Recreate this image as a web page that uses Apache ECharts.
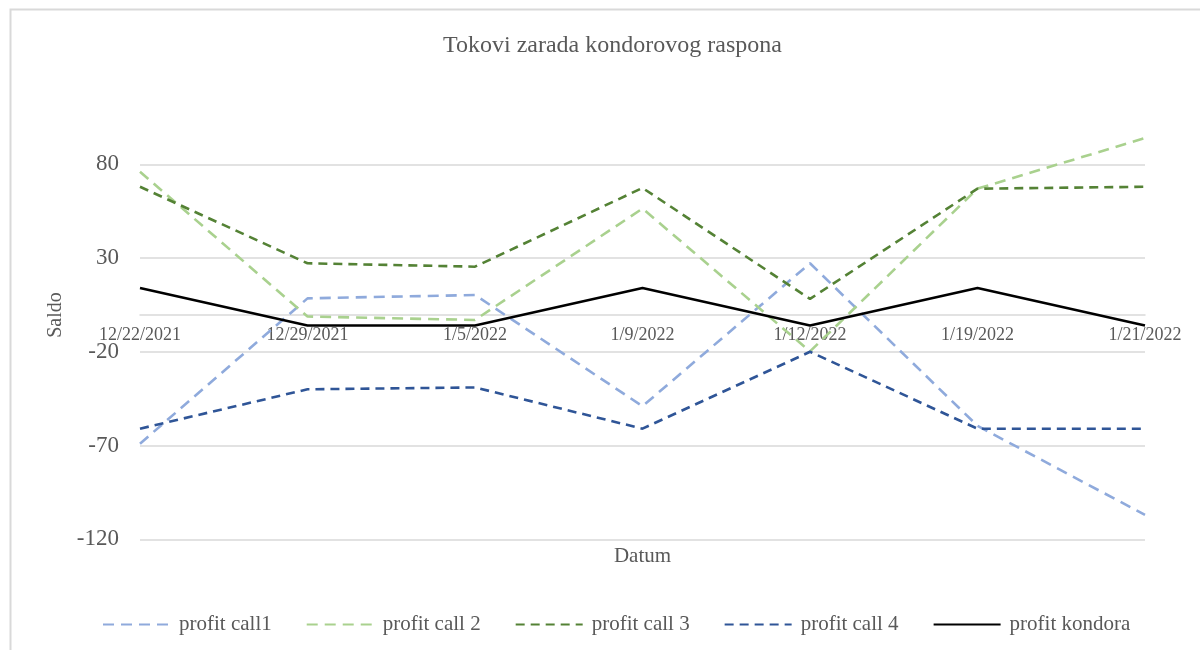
<!DOCTYPE html>
<html>
<head>
<meta charset="utf-8">
<title>Tokovi zarada kondorovog raspona</title>
<script src="https://cdn.jsdelivr.net/npm/echarts@6/dist/echarts.min.js"></script>
<style>
    html, body { margin: 0; padding: 0; background: #fff; }
    #main { width: 1200px; height: 650px; }
</style>
</head>
<body>
<div id="main"></div>
<script>
// podaci ----------------------------
var dates = ['12/22/2021', '12/29/2021', '1/5/2022', '1/9/2022', '1/12/2022', '1/19/2022', '1/21/2022'];
var call1 = [-69, 8.5, 10.3, -49, 27.2, -59.5, -107];
var call2 = [76, -1.2, -3, 56.4, -19.8, 67, 94];
var call3 = [68, 27.2, 25.4, 67.4, 8.2, 67, 68];
var call4 = [-61, -40, -39, -61, -20, -61, -61];
var kondora = [14, -6, -6, 14, -6, 14, -6];
var yTicks = { min: -120, max: 80, step: 50 };

var font = '"Liberation Serif", "Times New Roman", serif';
var gray = '#595959';
var gridGray = '#D9D9D9';

// os x stoji na nuli: pomak od dna grida (u pikselima)
var plotH = 375;
var zeroShift = -plotH * (0 - yTicks.min) / (yTicks.max - yTicks.min);

function line(name, data, color, dash) {
    return {
        name: name,
        type: 'line',
        data: data,
        symbol: 'none',
        clip: false,
        lineStyle: { color: color, width: 2.6, type: dash },
        itemStyle: { color: color }
    };
}

var myChart = echarts.init(document.getElementById('main'));

var option = {
    backgroundColor: '#fff',
    animation: false,
    title: {
        text: 'Tokovi zarada kondorovog raspona',
        left: 438,
        top: 29,
        textStyle: { color: gray, fontFamily: font, fontSize: 24, fontWeight: 'normal' }
    },
    legend: {
        left: 97,
        top: 609,
        itemWidth: 67,
        itemHeight: 14,
        itemGap: 34,
        itemStyle: { opacity: 0 },
        textStyle: { color: gray, fontFamily: font, fontSize: 21, padding: [0, 0, 0, 4] },
        data: ['profit call1', 'profit call 2', 'profit call 3', 'profit call 4', 'profit kondora']
    },
    grid: { left: 140, right: 55, top: 164.3, bottom: 110.7, containLabel: false, outerBoundsMode: 'none' },
    xAxis: {
        type: 'category',
        data: dates,
        boundaryGap: false,
        offset: zeroShift,
        name: 'Datum',
        nameLocation: 'middle',
        nameGap: 232,
        nameTextStyle: { color: gray, fontFamily: font, fontSize: 21 },
        axisLine: { onZero: false, lineStyle: { color: gridGray, width: 1.5 } },
        axisTick: { show: false },
        axisLabel: { interval: 0, margin: 12, color: gray, fontFamily: font, fontSize: 18 }
    },
    yAxis: {
        type: 'value',
        min: yTicks.min,
        max: yTicks.max,
        interval: yTicks.step,
        axisLine: { show: false },
        axisTick: { show: false },
        axisLabel: { margin: 21, color: gray, fontFamily: font, fontSize: 23 },
        splitLine: { lineStyle: { color: gridGray, width: 1.5 } }
    },
    graphic: [
        {
            type: 'rect',
            shape: { x: 10.5, y: 9.5, width: 1300, height: 800 },
            style: { fill: 'none', stroke: gridGray, lineWidth: 2 },
            silent: true
        },
        {
            type: 'text',
            x: 56,
            y: 315,
            rotation: Math.PI / 2,
            style: {
                text: 'Saldo',
                fill: gray,
                font: '20px ' + font,
                align: 'center',
                verticalAlign: 'middle'
            }
        }
    ],
    series: [
        line('profit call1', call1, '#8FAADC', [11, 7]),
        line('profit call 2', call2, '#A9D18E', [11, 7]),
        line('profit call 3', call3, '#548235', [9, 6]),
        line('profit call 4', call4, '#2F5597', [9, 6]),
        line('profit kondora', kondora, '#000000', 'solid')
    ]
};
myChart.setOption(option);
</script>
</body>
</html>
